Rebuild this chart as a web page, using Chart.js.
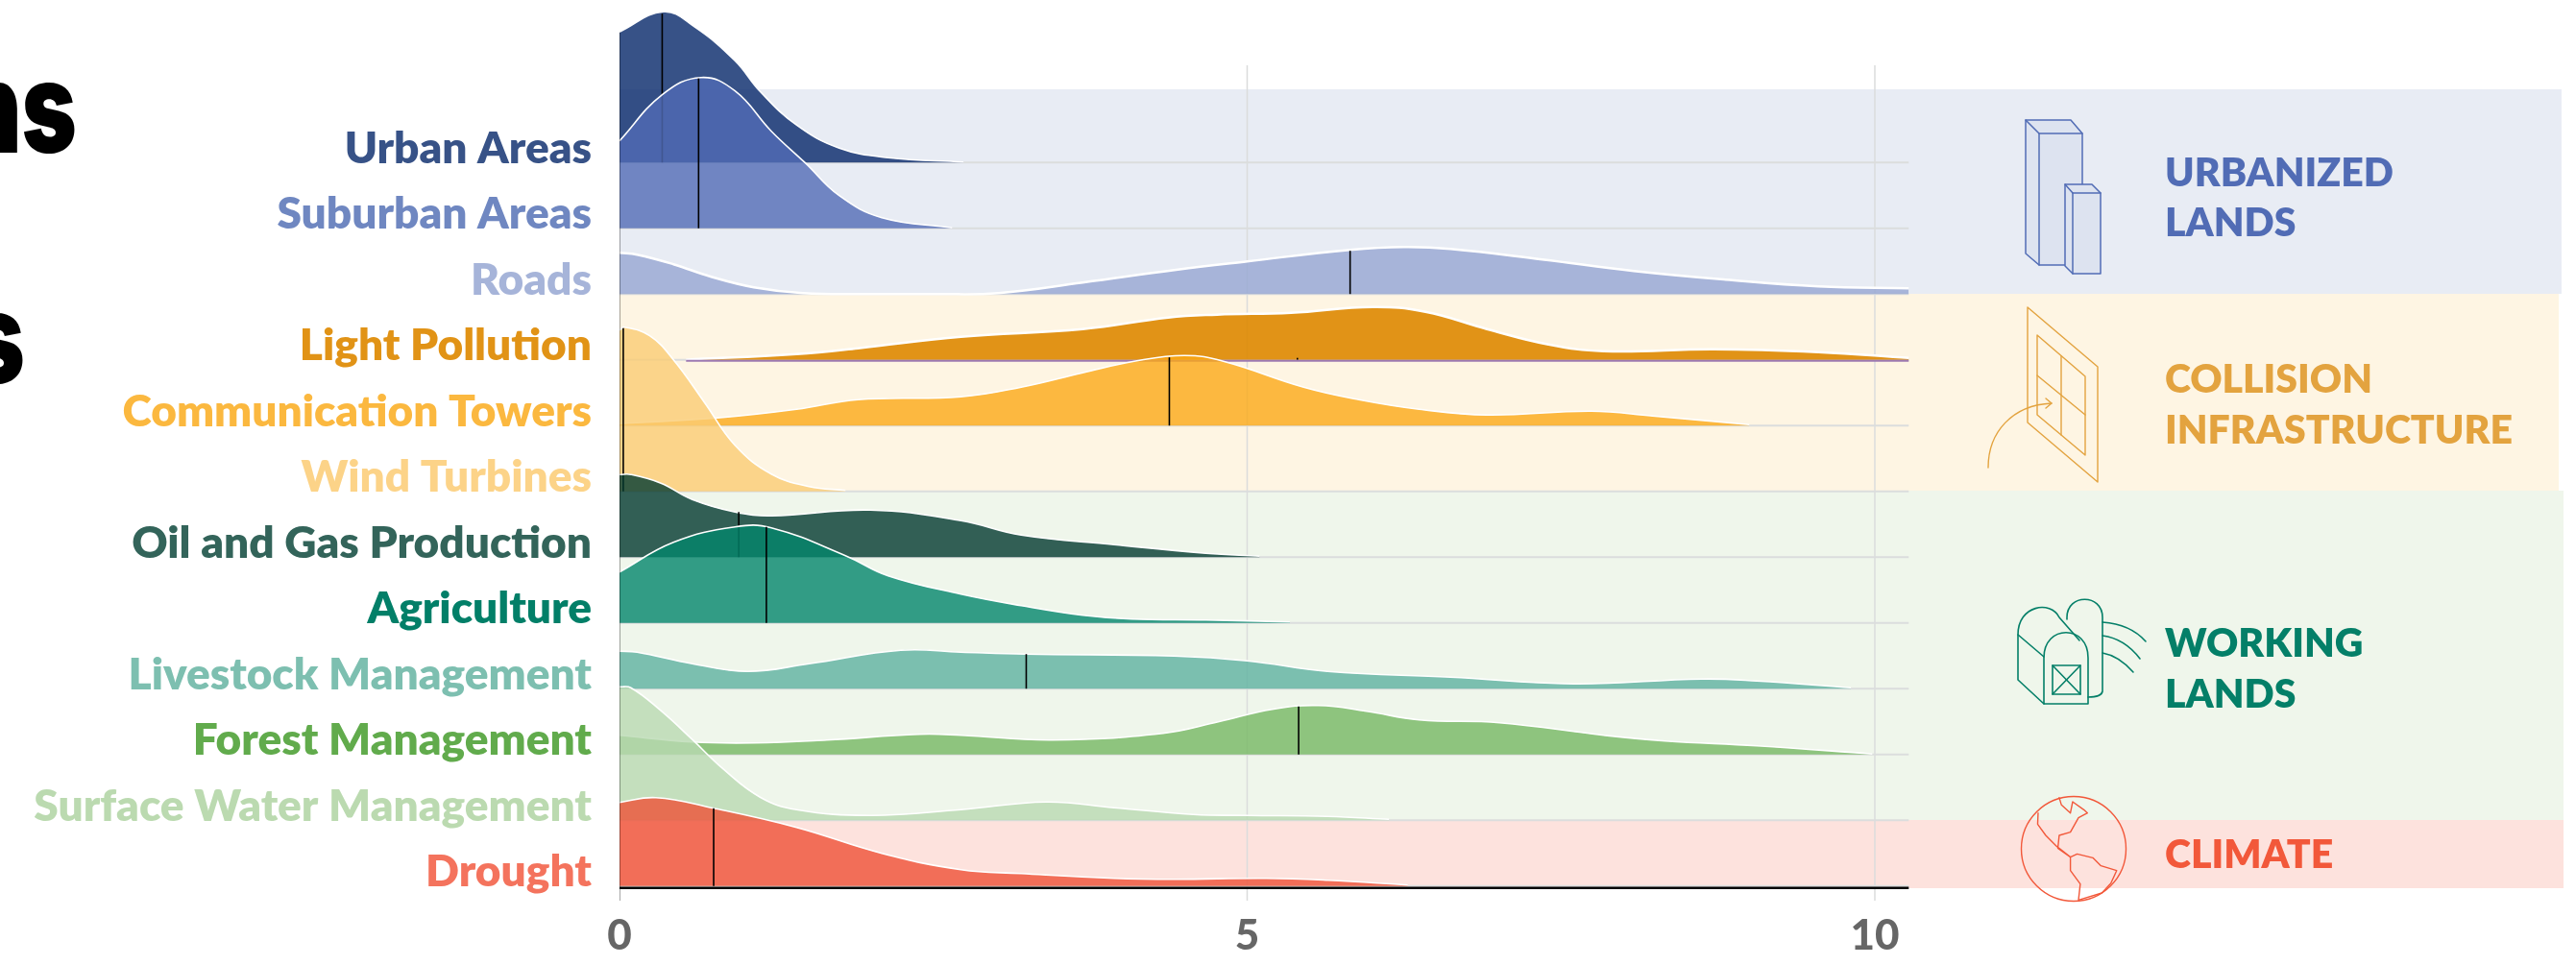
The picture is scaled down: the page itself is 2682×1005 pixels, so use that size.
<!DOCTYPE html>
<html><head><meta charset="utf-8">
<style>html,body{margin:0;padding:0;background:#fff}canvas{display:block}</style>
<script src="https://cdn.jsdelivr.net/npm/chart.js@4"></script></head>
<body><canvas id="c" width="2682" height="1005"></canvas>
<script>
const categories=["Urban Areas","Suburban Areas","Roads","Light Pollution","Communication Towers","Wind Turbines","Oil and Gas Production","Agriculture","Livestock Management","Forest Management","Surface Water Management","Drought"];
const labelColors=["#375287","#6F87C1","#A6B4D9","#E19316","#FBB83F","#FCD388","#33645A","#027F68","#7DBFB0","#61AB4C","#BBDAB0","#F4735D"];
const fillColors=["rgba(5,39,105,.8)","rgba(81,108,181,.8)","rgba(150,166,210,.8)","rgba(222,136,0,.9)","rgba(251,169,22,.8)","rgba(250,204,115,.8)","rgba(3,57,47,.8)","rgba(3,134,107,.8)","rgba(94,177,160,.8)","rgba(118,184,99,.8)","rgba(185,217,177,.8)","rgba(239,81,55,.8)"];
const rowStep=0.685, axisEnd=10.27, xMax=15.486, yMin=-0.153, yMax=9.227;

const urbanX=[0,.35,.6,.92,1.12,1.41,1.75,2.14,2.74];
const urbanY=[1.36,1.57,1.41,1.06,.74,.39,.15,.05,.005];
const suburbanX=[0,.34,.65,.92,1.21,1.48,1.75,2.09,2.65];
const suburbanY=[.91,1.39,1.57,1.43,1.01,.68,.34,.11,.005];
const roadsX=[0,.14,.43,.73,1.07,1.46,2,2.5,3.02,3.69,4.42,5,5.82,6.25,6.62,7.35,8.08,8.81,9.55,10.27];
const roadsY=[.43,.41,.31,.18,.07,.01,0,0,.01,.12,.25,.34,.46,.49,.47,.36,.24,.15,.08,.06];
const lightX=[.53,1.41,1.9,2.72,3.69,4.37,4.76,5.35,6,6.42,6.91,7.4,7.84,8.72,9.55,10.27];
const lightY=[0,.06,.12,.24,.32,.44,.47,.49,.55,.5,.32,.16,.09,.11,.08,.02];
const commX=[0,.78,1.41,1.9,2.72,3.2,3.69,4.1,4.5,4.81,5.45,5.89,6.37,6.91,7.74,8.23,9];
const commY=[.02,.08,.17,.27,.3,.4,.55,.67,.73,.67,.4,.27,.17,.11,.15,.1,.01];
const windX=[0,.04,.24,.43,.68,.92,1.21,1.51,1.8];
const windY=[1.68,1.71,1.62,1.37,.92,.48,.18,.05,.01];
const oilX=[0,.09,.33,.58,.92,1.21,2,2.72,3.2,3.94,4.67,5.1];
const oilY=[.86,.86,.77,.6,.47,.43,.49,.38,.23,.13,.04,.01];
const agriX=[0,.43,.92,1.21,1.8,2.14,2.72,3.2,3.69,4.08,4.67,5.34];
const agriY=[.53,.84,1,.99,.7,.49,.3,.18,.08,.04,.03,.01];
const livestockX=[0,.14,.58,1.02,1.51,2.24,2.72,3.24,4.42,5,5.64,6.62,7.6,8.62,9.06,9.81];
const livestockY=[.39,.38,.26,.18,.26,.4,.38,.36,.34,.29,.18,.12,.05,.1,.08,.01];
const forestX=[0,.58,1.07,1.65,2.39,2.72,3.45,4.33,4.77,5.2,5.57,5.95,6.37,7.01,7.84,8.33,9.06,9.98];
const forestY=[.2,.13,.12,.15,.21,.2,.15,.22,.34,.47,.51,.45,.36,.33,.2,.14,.09,.005];
const surfaceX=[0,.09,.33,.58,.82,1.12,1.41,2,2.72,3.4,3.94,4.57,5,5.64,6.13];
const surfaceY=[1.39,1.38,1.14,.84,.54,.24,.11,.05,.11,.19,.13,.06,.05,.04,.01];
const droughtX=[0,.29,.75,1.41,2.09,2.72,3.2,3.94,4.42,5.15,5.64,6.28];
const droughtY=[.87,.92,.81,.61,.34,.17,.13,.08,.07,.08,.06,.01];
const ridgeX=[urbanX,suburbanX,roadsX,lightX,commX,windX,oilX,agriX,livestockX,forestX,surfaceX,droughtX];
const ridgeY=[urbanY,suburbanY,roadsY,lightY,commY,windY,oilY,agriY,livestockY,forestY,surfaceY,droughtY];

const medianX=[.34,.63,5.82,5.4,4.38,.03,.95,1.17,3.24,5.41,null,.75];
const medianH=[1.55,1.56,.45,.02,.71,1.7,.47,1.0,.36,.5,null,.81];

const bandNames=["Urbanized Lands","Collision Infrastructure","Working Lands","Climate"];
const bandTop=[8.297,6.167,4.117,.687];
const bandBottom=[6.167,4.117,.687,-.023];
const bandEnd=[15.47,15.45,15.486,15.486];
const bandColors=["#E8ECF4","#FEF5E3","#EFF6EB","#FDE2DD"];
const gridValues=[5,10], gridTop=8.547;
const xTicks=[0,5,10];
const groupLines=[["URBANIZED","LANDS"],["COLLISION","INFRASTRUCTURE"],["WORKING","LANDS"],["CLIMATE"]];
const groupColors=["#516CB5","#E3A33F","#047F68","#F2583A"];
const groupTextY=[[178,230],[393,446],[668,721],[888]];
const headingBits=["ns","s"];

const rowBase=categories.map((_,i)=>(11-i)*rowStep);
const base={pointRadius:0,pointHoverRadius:0,borderJoinStyle:'round'};
const datasets=[];
bandNames.forEach((n,i)=>datasets.push({...base,label:n,order:1000+i,borderWidth:0,backgroundColor:bandColors[i],
  fill:{value:bandBottom[i]},data:[{x:0,y:bandTop[i]},{x:bandEnd[i],y:bandTop[i]}]}));
gridValues.forEach(v=>datasets.push({...base,label:'grid '+v,order:900,borderColor:'#DBDCDC',borderWidth:1.5,fill:false,
  data:[{x:v,y:yMin},{x:v,y:gridTop}]}));
rowBase.forEach((b,i)=>datasets.push({...base,label:'base '+i,order:800,borderColor:'#DBDDDD',borderWidth:2,fill:false,
  data:[{x:0,y:b},{x:axisEnd,y:b}]}));
categories.forEach((c,i)=>{
  datasets.push({...base,label:c,order:500-i*10,fill:{value:rowBase[i]},backgroundColor:fillColors[i],borderColor:'#fff',
    borderWidth:(i==2||i==3)?2.5:1.6,tension:.42,
    data:ridgeX[i].map((x,k)=>({x,y:rowBase[i]+ridgeY[i][k]}))});
  if(medianX[i]!==null) datasets.push({...base,label:c+' median',order:500-i*10-1,borderColor:'#000',borderWidth:1.6,fill:false,
    data:[{x:medianX[i],y:rowBase[i]},{x:medianX[i],y:rowBase[i]+medianH[i]}]});
});
datasets.push({...base,label:'light base',order:465,borderColor:'#9C79B2',borderWidth:2,fill:false,
  data:[{x:.53,y:rowBase[3]-.01},{x:axisEnd,y:rowBase[3]-.01}]});
datasets.push({...base,label:'x axis',order:1,borderColor:'#000',borderWidth:2.5,fill:false,data:[{x:0,y:-.02},{x:axisEnd,y:-.02}]});
datasets.push({...base,label:'y axis',order:0,borderColor:'#000',borderWidth:2,fill:false,data:[{x:-.005,y:yMin},{x:-.005,y:8.89}]});

function poly(ctx,pts,close){ctx.beginPath();pts.forEach((p,i)=>i?ctx.lineTo(p[0],p[1]):ctx.moveTo(p[0],p[1]));if(close)ctx.closePath();ctx.stroke();}
const decor={id:'decor',afterDraw(ch){
  const ctx=ch.ctx;ctx.save();
  // clipped heading fragments
  ctx.save();ctx.fillStyle='#000';ctx.textAlign='right';ctx.textBaseline='alphabetic';
  ctx.font='900 132px "Inter"';ctx.scale(.74,1);
  ctx.fillText(headingBits[0],80/.74,159);
  ctx.fillText(headingBits[1],26/.74,399);
  ctx.restore();
  // group labels
  ctx.textAlign='left';ctx.font='800 41px "Lato"';
  groupLines.forEach((ls,i)=>{ctx.fillStyle=groupColors[i];ls.forEach((t,j)=>ctx.fillText(t,2254,groupTextY[i][j]+16));});
  ctx.lineJoin='round';ctx.lineCap='round';
  // buildings
  ctx.strokeStyle='#516CB5';ctx.lineWidth=1.5;ctx.fillStyle='#DDE3F0';
  [[[2109,125],[2156,125],[2168,139],[2168,276],[2123,276],[2109,264]],[[2150,192],[2178,192],[2187,201],[2187,285],[2158,285],[2150,277]]].forEach(s=>{
    ctx.beginPath();s.forEach((p,i)=>i?ctx.lineTo(p[0],p[1]):ctx.moveTo(p[0],p[1]));ctx.closePath();ctx.fill();ctx.stroke();});
  poly(ctx,[[2109,125],[2123,139],[2168,139]]);poly(ctx,[[2123,139],[2123,276]]);
  poly(ctx,[[2150,192],[2158,201],[2187,201]]);poly(ctx,[[2158,201],[2158,285]]);
  // window
  ctx.strokeStyle='#E3A33F';ctx.lineWidth=1.4;
  poly(ctx,[[2111,320],[2184,382],[2184,502],[2111,440]],true);
  poly(ctx,[[2121,349],[2171,392],[2171,474],[2121,432]],true);
  poly(ctx,[[2146,371],[2146,453]]);poly(ctx,[[2121,391],[2171,432]]);
  ctx.beginPath();ctx.moveTo(2070,487);ctx.bezierCurveTo(2070,450,2095,422,2136,420);ctx.stroke();
  poly(ctx,[[2130,415],[2136,420],[2130,425]]);
  // barn
  ctx.strokeStyle='#047F68';ctx.lineWidth=1.6;
  ctx.beginPath();ctx.moveTo(2128,733);ctx.lineTo(2128,685);ctx.bezierCurveTo(2128,650,2174,650,2174,685);ctx.lineTo(2174,733);ctx.closePath();ctx.stroke();
  ctx.beginPath();ctx.moveTo(2128,733);ctx.lineTo(2101,708);ctx.lineTo(2101,661);ctx.bezierCurveTo(2101,630,2135,625,2144,643);ctx.lineTo(2165,667);ctx.stroke();
  poly(ctx,[[2101,661],[2128,684]]);
  ctx.beginPath();ctx.moveTo(2152,645);ctx.lineTo(2152,643);ctx.bezierCurveTo(2152,618,2189,618,2189,643);ctx.lineTo(2189,720);ctx.quadraticCurveTo(2188,726,2174,726);ctx.stroke();
  ctx.strokeRect(2137,693,29,30);poly(ctx,[[2137,693],[2166,723]]);poly(ctx,[[2166,693],[2137,723]]);
  [[648,2234,668,2218,650],[662,2228,686,2212,665],[680,2221,700,2206,683]].forEach(a=>{ctx.beginPath();ctx.moveTo(2189,a[0]);ctx.quadraticCurveTo(a[3],a[4],a[1],a[2]);ctx.stroke();});
  // globe
  ctx.strokeStyle='#F2583A';ctx.lineWidth=1.4;
  ctx.beginPath();ctx.arc(2159,884,54.5,0,Math.PI*2);ctx.stroke();
  const gx=z=>1950+z/2.14, gy=z=>500+z/3;
  const na=[[415,992],[420,1015],[440,1040],[445,1005],[470,1030],[478,1040],[458,1055],[440,1100],[415,1110],[412,1150],[440,1178],[410,1145],[385,1110],[367,1075],[368,1040]];
  const sa=[[440,1178],[455,1168],[490,1180],[508,1205],[543,1220],[530,1260],[510,1290],[458,1312],[462,1262],[440,1220]];
  poly(ctx,na.map(p=>[gx(p[0]),gy(p[1])]));poly(ctx,sa.map(p=>[gx(p[0]),gy(p[1])]),true);
  ctx.restore();
}};

new Chart(document.getElementById('c'),{type:'line',data:{datasets},plugins:[decor],options:{
  responsive:false,animation:false,parsing:true,events:[],
  layout:{padding:{top:0,right:13,left:0,bottom:0}},
  plugins:{legend:{display:false},tooltip:{enabled:false},title:{display:false}},
  scales:{
    x:{type:'linear',min:0,max:xMax,grid:{display:false},border:{display:false},
      afterBuildTicks(s){s.ticks=xTicks.map(value=>({value}));},
      afterFit(s){s.height=67;s.paddingLeft=0;s.paddingRight=0;},
      ticks:{autoSkip:false,maxRotation:0,padding:2,color:'#666',font:{family:'Lato',weight:'900',size:44},callback:v=>String(v)}},
    y:{type:'linear',min:yMin,max:yMax,grid:{display:false},border:{display:false},
      afterBuildTicks(s){s.ticks=rowBase.map(b=>({value:b+.145}));},
      afterFit(s){s.width=645;s.paddingTop=0;s.paddingBottom=0;},
      ticks:{autoSkip:false,padding:21,color:c=>labelColors[c.index],font:{family:'Lato',weight:'800',size:46},
        callback:(v,i)=>categories[i]}}
  }}});
</script></body></html>
